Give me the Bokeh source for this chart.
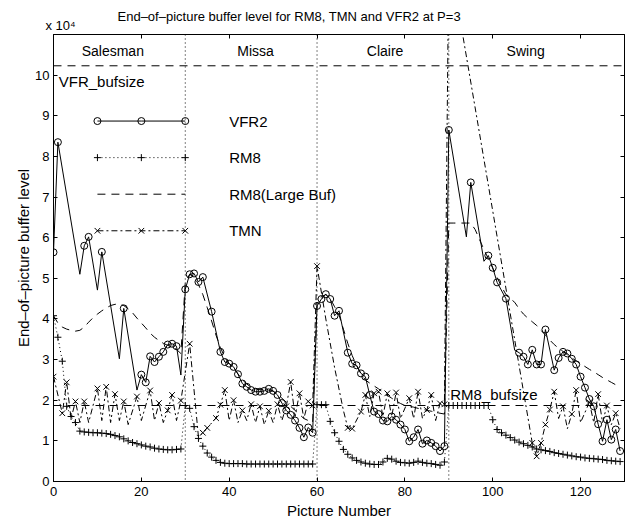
from bokeh.plotting import figure
from bokeh.models import Span, Label, LinearAxis, FixedTicker, Range1d, Title
from bokeh.embed import file_html
from bokeh.resources import INLINE

FONT = "Liberation Sans"

# ---------------- data (buffer level in units of 10^4 bits) ----------------
picture = list(range(130))

vfr2_x = [0, 1, 6, 7, 8, 10, 11, 15, 16, 19, 20, 21, 22, 23, 24, 25, 26, 27, 28, 29,
          30, 31, 32, 33, 34, 36, 38, 39, 40, 41, 42, 43, 44, 45, 46, 47, 48, 49, 50, 51, 52, 53, 54, 55, 56, 57, 58, 59,
          60, 61, 62, 63, 64, 65, 67, 68, 69, 70, 71, 72, 73, 74, 75, 76, 77, 78, 79, 80, 81, 82, 83, 84, 85, 86, 87, 88, 89,
          90, 94, 95, 98, 99, 100, 101, 103, 105, 106, 107, 108, 109, 110, 111, 112, 114, 115, 116, 117, 118, 119, 120, 121,
          122, 123, 124, 125, 126, 127, 128, 129]
vfr2_y = [5.64, 8.35, 5.10, 5.80, 6.02, 4.71, 5.65, 3.02, 4.26, 2.25, 2.63, 2.44, 3.08, 2.94, 3.07, 3.19, 3.37, 3.39, 3.33, 2.62,
          4.73, 5.10, 5.12, 4.91, 5.03, 4.18, 3.19, 2.94, 2.90, 2.82, 2.64, 2.41, 2.33, 2.25, 2.21, 2.21, 2.23, 2.28, 2.23, 2.13, 1.93, 1.75, 1.64, 1.50, 1.32, 1.09, 1.33, 1.20,
          4.32, 4.49, 4.61, 4.49, 4.08, 4.20, 3.17, 2.90, 2.86, 2.66, 2.58, 2.13, 1.72, 1.66, 1.50, 1.48, 1.60, 1.52, 1.40, 1.28, 0.99, 1.09, 1.28, 0.93, 1.01, 0.95, 0.87, 0.75, 0.87,
          8.65, 6.02, 7.36, 5.42, 5.56, 5.26, 4.90, 4.50, 3.23, 3.17, 3.07, 2.88, 3.24, 2.88, 2.88, 3.74, 2.74, 3.04, 3.19, 3.15, 3.02, 2.88, 2.58, 2.31,
          2.03, 1.85, 1.41, 0.99, 1.52, 1.03, 1.28, 0.75]
vfr2_marked = [1, 1, 0, 1, 1, 0, 1, 0, 1, 0, 1, 1, 1, 1, 1, 1, 1, 1, 1, 0,
               1, 1, 1, 1, 1, 1, 1, 1, 1, 1, 1, 1, 1, 1, 1, 1, 1, 1, 1, 1, 1, 1, 1, 1, 1, 1, 1, 1,
               1, 1, 1, 1, 1, 1, 1, 1, 1, 1, 1, 1, 1, 1, 1, 1, 1, 1, 1, 1, 1, 1, 1, 1, 1, 1, 1, 1, 1,
               1, 0, 1, 0, 1, 1, 1, 1, 0, 1, 1, 1, 1, 1, 1, 1, 1, 1, 1, 1, 1, 1, 1, 1, 1,
               1, 1, 1, 1, 1, 1, 1, 1]

rm8_y = [4.08, 3.55, 2.96, 1.85, 1.60, 1.45, 1.24, 1.22, 1.21, 1.20, 1.20, 1.19, 1.18, 1.16, 1.13, 1.10, 1.05, 1.00, 0.96, 0.93,
         0.90, 0.87, 0.85, 0.82, 0.80, 0.79, 0.78, 0.78, 0.79, 0.80,
         1.87, 1.80, 1.35, 1.06, 0.87, 0.70, 0.60, 0.52, 0.47, 0.45, 0.44, 0.44, 0.44, 0.44, 0.43, 0.43, 0.43, 0.43, 0.43, 0.43,
         0.43, 0.43, 0.43, 0.43, 0.43, 0.43, 0.43, 0.43, 0.43, 0.43,
         1.89, 1.89, 1.89, 1.48, 1.20, 0.99, 0.79, 0.67, 0.58, 0.52, 0.48, 0.45, 0.43, 0.42, 0.42, 0.48, 0.57, 0.55, 0.50, 0.47,
         0.46, 0.45, 0.47, 0.50, 0.47, 0.45, 0.44, 0.42, 0.40, 0.48,
         1.87, 1.87, 1.87, 1.87, 1.87, 1.87, 1.87, 1.87, 1.87, 1.87, 1.52, 1.28, 1.20, 1.14, 1.08, 1.02, 0.97, 0.93, 0.89, 0.85,
         0.80, 0.78, 0.76, 0.74, 0.71, 0.69, 0.67, 0.65, 0.63, 0.61, 0.60, 0.58, 0.57, 0.56, 0.55, 0.54, 0.52, 0.51, 0.50, 0.49]

rm8_large_y = [4.08, 3.90, 3.80, 3.75, 3.72, 3.70, 3.72, 3.80, 3.92, 4.03, 4.12, 4.20, 4.27, 4.33, 4.36, 4.37, 4.33, 4.25, 4.15, 4.02,
               3.90, 3.78, 3.65, 3.55, 3.47, 3.40, 3.35, 3.31, 3.25, 3.15,
               4.90, 5.10, 5.05, 4.85, 4.60, 4.28, 3.95, 3.60, 3.30, 3.05, 2.90, 2.80, 2.65, 2.50, 2.40, 2.32, 2.28, 2.26, 2.25, 2.24,
               2.22, 2.15, 2.05, 1.95, 1.85, 1.75, 1.65, 1.55, 1.50, 1.45,
               4.40, 4.55, 4.60, 4.50, 4.30, 4.10, 3.75, 3.40, 3.10, 2.85, 2.65, 2.50, 2.42, 2.35, 2.28, 2.20, 2.12, 2.05, 1.98, 1.92,
               1.87, 1.85, 1.83, 1.80, 1.78, 1.75, 1.73, 1.70, 1.68, 1.66,
               6.36, 6.36, 6.36, 6.36, 6.36, 6.36, 6.20, 5.95, 5.71, 5.48, 5.25, 5.02, 4.80, 4.60, 4.50, 4.41, 4.25, 4.12, 4.02, 3.93,
               3.84, 3.72, 3.60, 3.48, 3.37, 3.28, 3.20, 3.12, 3.04, 2.97, 2.90, 2.83, 2.76, 2.70, 2.63, 2.56, 2.50, 2.44, 2.38, 2.33]

tmn_x = [0, 2, 3, 4, 5, 6, 7, 8, 10, 11, 12, 13, 14, 15, 16, 17, 19, 20, 22, 23, 24, 25, 26, 27, 28, 29,
         31, 33, 34, 35, 37, 38, 39, 40, 41, 42, 43, 44, 45, 46, 47, 48, 49, 50, 51, 52, 53, 54, 55, 56, 57, 58, 59,
         60, 62, 64, 66, 67, 68, 70, 71, 72, 73, 74, 75, 76, 77, 78, 79, 81, 82, 83, 84, 85, 86, 87, 88, 89,
         90, 109, 110, 111, 112, 113, 114, 115, 116, 117, 118, 119, 120, 122, 123, 124, 125, 126, 127, 128, 129]
tmn_y = [2.58, 1.68, 2.44, 1.55, 1.97, 1.45, 1.97, 1.45, 2.29, 1.50, 2.33, 1.45, 2.15, 1.50, 1.97, 1.40, 2.09, 1.50, 2.24, 1.50,
         1.93, 1.45, 1.75, 2.13, 1.50, 1.99,
         3.39, 1.10, 1.20, 1.32, 1.56, 1.89, 2.25, 1.50, 2.00, 1.45, 1.75, 1.50, 1.90, 1.45, 1.85, 1.40, 1.74, 1.45, 1.90, 1.50,
         1.85, 2.45, 1.60, 2.17, 1.55, 1.97, 1.87,
         5.30, 4.00, 2.80, 1.75, 1.32, 1.30, 1.72, 2.13, 1.60, 2.17, 2.21, 1.60, 2.17, 1.60, 2.19, 1.55, 2.05, 1.55, 2.21, 1.55,
         1.76, 2.13, 1.50, 1.92, 1.90,
         13.0, 0.95, 0.62, 0.95, 1.40, 1.77, 2.21, 1.55, 1.85, 1.30, 1.66, 2.25, 1.45, 1.95, 1.45, 2.15, 1.45, 1.87, 1.40, 1.68, 1.30]
tmn_marked = [1, 1, 1, 0, 1, 0, 1, 0, 1, 0, 1, 0, 1, 0, 1, 0, 1, 0, 1, 0, 1, 0, 1, 1, 0, 1,
              1, 0, 1, 1, 1, 1, 1, 0, 1, 0, 1, 0, 1, 0, 1, 0, 1, 0, 1, 0, 1, 1, 0, 1, 0, 1, 1,
              1, 0, 0, 0, 1, 1, 1, 1, 0, 1, 1, 0, 1, 0, 1, 0, 1, 0, 1, 0, 1, 1, 0, 1, 1,
              1, 1, 1, 1, 1, 1, 1, 0, 1, 0, 1, 1, 0, 1, 0, 1, 0, 1, 0, 1, 0]

vfr_bufsize = 10.23
rm8_bufsize = 1.87
sequence_bounds = [30, 60, 90]
sequence_names = ["Salesman", "Missa", "Claire", "Swing"]
sequence_label_x = [13.5, 46, 75.5, 107.5]

legend_names = ["VFR2", "RM8", "RM8(Large Buf)", "TMN"]
legend_rows = [8.87, 7.97, 7.07, 6.17]
legend_marks = [10, 20, 30]

xticks = [0, 20, 40, 60, 80, 100, 120]
yticks = list(range(0, 11))

# ---------------- figure ----------------
p = figure(width=627, height=521, x_range=Range1d(0, 130), y_range=Range1d(0, 11),
           output_backend="svg", toolbar_location=None, title=None,
           min_border_left=53, min_border_right=3, min_border_top=34, min_border_bottom=37,
           x_axis_label="Picture Number", y_axis_label="End\u2013of\u2013picture buffer level")
p.grid.visible = False
p.outline_line_color = "black"
p.outline_line_width = 1
p.background_fill_color = "white"
p.border_fill_color = "white"

for ax, ticks in ((p.xaxis[0], xticks), (p.yaxis[0], yticks)):
    ax.ticker = FixedTicker(ticks=ticks)
    ax.major_tick_in = 4
    ax.major_tick_out = 0
    ax.minor_tick_line_color = None
    ax.axis_line_color = "black"
    ax.major_tick_line_color = "black"
    ax.major_label_text_font = FONT
    ax.major_label_text_font_size = "13px"
    ax.major_label_text_color = "black"
    ax.axis_label_text_font = FONT
    ax.axis_label_text_font_size = "15px"
    ax.axis_label_text_font_style = "normal"
    ax.axis_label_text_color = "black"
p.yaxis[0].major_label_standoff = 4
p.xaxis[0].major_label_standoff = 5
p.yaxis[0].axis_label_standoff = 0
p.xaxis[0].axis_label_standoff = 3

for loc, ticks in (("right", yticks), ("above", xticks)):
    a = LinearAxis(ticker=FixedTicker(ticks=ticks), major_label_text_font_size="1px",
                   major_label_text_color=None,
                   major_tick_in=4, major_tick_out=0, minor_tick_line_color=None,
                   major_label_standoff=0, axis_line_color="black")
    p.add_layout(a, loc)

# exponent and title above the axes (first added sits nearest the frame)
p.add_layout(Title(text="x 10\u2074", align="left", offset=-8, standoff=3,
                   text_font=FONT, text_font_size="13px", text_font_style="normal", text_color="black"), "above")
p.add_layout(Title(text="End\u2013of\u2013picture buffer level for RM8, TMN and VFR2 at P=3", align="left",
                   offset=64, standoff=-19, text_font=FONT, text_font_size="13px",
                   text_font_style="normal", text_color="black"), "above")

# reference lines
p.add_layout(Span(location=vfr_bufsize, dimension="width", line_color="black", line_width=1, line_dash="8 6"))
p.add_layout(Span(location=rm8_bufsize, dimension="width", line_color="black", line_width=1, line_dash="8 6"))
for b in sequence_bounds:
    p.add_layout(Span(location=b, dimension="height", line_color="black", line_width=1, line_dash="1 3"))

# series
p.line(vfr2_x, vfr2_y, line_color="black", line_width=1)
p.scatter([x for x, m in zip(vfr2_x, vfr2_marked) if m], [y for y, m in zip(vfr2_y, vfr2_marked) if m],
          marker="circle", size=7, fill_color=None, line_color="black", line_width=1)
p.line(picture, rm8_y, line_color="black", line_width=1, line_dash="1 3")
p.scatter(picture, rm8_y, marker="cross", size=7, line_color="black", line_width=1)
p.line(picture, rm8_large_y, line_color="black", line_width=1, line_dash="8 6")
p.line(tmn_x, tmn_y, line_color="black", line_width=1, line_dash="6 3 2 3")
p.scatter([x for x, m in zip(tmn_x, tmn_marked) if m], [y for y, m in zip(tmn_y, tmn_marked) if m],
          marker="x", size=8, line_color="black", line_width=1)

# legend (drawn inside axes like the original)
styles = ["solid", "1 3", "8 6", "6 3 2 3"]
markers = ["circle", "cross", None, "x"]
for name, row, st, mk in zip(legend_names, legend_rows, styles, markers):
    ys = [row] * len(legend_marks)
    p.line(legend_marks, ys, line_color="black", line_width=1, line_dash=st)
    if mk:
        p.scatter(legend_marks, ys, marker=mk, size=8 if mk == "x" else 7, fill_color=None,
                  line_color="black", line_width=1)
    p.add_layout(Label(x=40, y=row, text=name, text_font=FONT, text_font_size="15px",
                       text_baseline="middle", text_align="left", text_color="black"))

for name, xc in zip(sequence_names, sequence_label_x):
    p.add_layout(Label(x=xc, y=10.59, text=name, text_font=FONT, text_font_size="14px",
                       text_baseline="middle", text_align="center", text_color="black"))

p.add_layout(Label(x=1.2, y=9.84, text="VFR_bufsize", text_font=FONT, text_font_size="15px",
                   text_baseline="middle", text_align="left", text_color="black"))
p.add_layout(Label(x=90.3, y=2.13, text="RM8_bufsize", text_font=FONT, text_font_size="15px",
                   text_baseline="middle", text_align="left", text_color="black"))

open("out.html", "w").write(file_html(p, INLINE))
